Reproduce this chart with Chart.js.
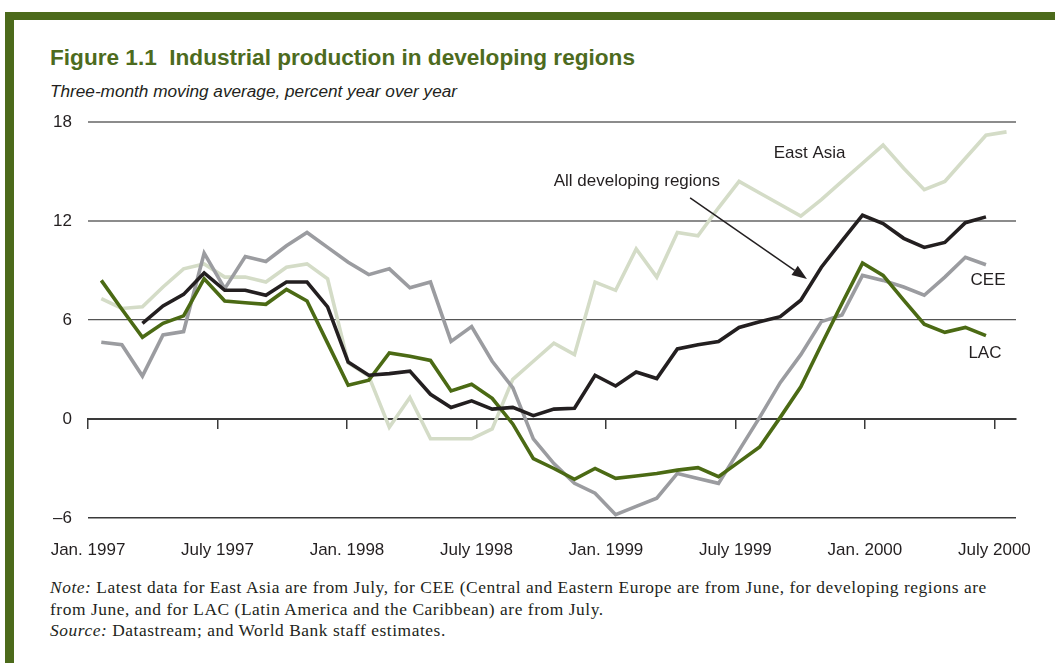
<!DOCTYPE html>
<html>
<head>
<meta charset="utf-8">
<script src="https://cdn.jsdelivr.net/npm/chart.js@4.4.1/dist/chart.umd.min.js"></script>
<style>
  html, body { margin:0; padding:0; background:#fff; }
  body { width:1055px; height:663px; overflow:hidden; position:relative; font-family:"Liberation Sans", Arial, sans-serif; color:#231f20; }
  #topbar { position:absolute; left:5px; top:12px; right:0; height:8px; background:#4c6a1b; }
  #leftbar { position:absolute; left:5px; top:12px; width:9px; bottom:0; background:#4c6a1b; }
  #title { position:absolute; left:50px; top:46px; font-weight:bold; font-size:22.6px; line-height:24px; color:#4d6b1e; white-space:pre; }
  #subtitle { position:absolute; left:50px; top:81px; font-style:italic; font-size:17.2px; line-height:20px; white-space:nowrap; }
  #notes { position:absolute; left:50px; top:577px; font-family:"Liberation Serif", "Times New Roman", serif; font-size:17.4px; letter-spacing:0.55px; line-height:21.5px; white-space:nowrap; }
  canvas { position:absolute; left:0; top:0; }
</style>
</head>
<body>
<div id="topbar"></div>
<div id="leftbar"></div>
<div id="title">Figure 1.1  Industrial production in developing regions</div>
<div id="subtitle">Three-month moving average, percent year over year</div>
<div id="notes"><i>Note:</i> Latest data for East Asia are from July, for CEE (Central and Eastern Europe are from June, for developing regions are<br>from June, and for LAC (Latin America and the Caribbean) are from July.<br><i>Source:</i> Datastream; and World Bank staff estimates.</div>
<canvas id="c" width="1055" height="663"></canvas>
<script>
// ---- data (monthly observations, Nov 1996 – Jul 2000) ----
const months = ['Nov 1996','Dec 1996',
  'Jan 1997','Feb 1997','Mar 1997','Apr 1997','May 1997','Jun 1997','Jul 1997','Aug 1997','Sep 1997','Oct 1997','Nov 1997','Dec 1997',
  'Jan 1998','Feb 1998','Mar 1998','Apr 1998','May 1998','Jun 1998','Jul 1998','Aug 1998','Sep 1998','Oct 1998','Nov 1998','Dec 1998',
  'Jan 1999','Feb 1999','Mar 1999','Apr 1999','May 1999','Jun 1999','Jul 1999','Aug 1999','Sep 1999','Oct 1999','Nov 1999','Dec 1999',
  'Jan 2000','Feb 2000','Mar 2000','Apr 2000','May 2000','Jun 2000','Jul 2000'];

const eastAsia = [7.3, 6.7, 6.8, 8.0, 9.1, 9.4, 8.6, 8.6, 8.3, 9.2,
  9.4, 8.5, 3.4, 2.6, -0.5, 1.3, -1.2, -1.2, -1.2, -0.6,
  2.4, 3.5, 4.6, 3.9, 8.3, 7.8, 10.3, 8.6, 11.3, 11.1,
  12.8, 14.4, 13.7, 13.0, 12.3, 13.3, 14.4, 15.5, 16.6, 15.2,
  13.9, 14.4, 15.8, 17.2, 17.4];

const cee = [4.65, 4.5, 2.6, 5.1, 5.3, 10.05, 7.9, 9.85, 9.55, 10.5,
  11.3, 10.4, 9.5, 8.75, 9.1, 7.95, 8.3, 4.7, 5.6, 3.5,
  1.9, -1.2, -2.7, -3.9, -4.5, -5.8, -5.3, -4.8, -3.3, -3.6,
  -3.9, -1.9, 0.1, 2.2, 3.9, 5.9, 6.3, 8.7, 8.4, 8.0,
  7.5, 8.6, 9.8, 9.35, null];

const lac = [8.4, 6.65, 4.95, 5.8, 6.25, 8.5, 7.15, 7.05, 6.95, 7.85,
  7.15, 4.6, 2.05, 2.35, 4.0, 3.8, 3.55, 1.7, 2.1, 1.25,
  -0.3, -2.4, -3.0, -3.65, -3.0, -3.6, -3.45, -3.3, -3.1, -2.95,
  -3.5, -2.6, -1.7, 0.1, 1.95, 4.5, 7.0, 9.45, 8.7, 7.2,
  5.75, 5.25, 5.55, 5.05, null];

const allDeveloping = [null, null, 5.8, 6.85, 7.55, 8.85, 7.8, 7.8, 7.5, 8.3,
  8.3, 6.8, 3.45, 2.65, 2.75, 2.9, 1.5, 0.7, 1.1, 0.6,
  0.7, 0.2, 0.6, 0.65, 2.65, 2.0, 2.85, 2.45, 4.25, 4.5,
  4.7, 5.55, 5.9, 6.2, 7.2, 9.2, 10.8, 12.35, 11.85, 10.95,
  10.4, 10.7, 11.9, 12.25, null];

// axis tick labels (months since Jan 1997)
const tickMonths = [0, 6, 12, 18, 24, 30, 36, 42];
const tickLabels = ['Jan. 1997','July 1997','Jan. 1998','July 1998','Jan. 1999','July 1999','Jan. 2000','July 2000'];
const yTicks = [-6, 0, 6, 12, 18];

// ---- layout / styling (not data) ----
const seriesLabels = [
  { text: 'East Asia', x: 34.43, y: 16.11 },
  { text: 'All developing regions', x: 26.03, y: 14.39 },
  { text: 'CEE', x: 43.1, y: 8.43 },
  { text: 'LAC', x: 42.95, y: 3.97 }
];
const arrow = { from: [28.62, 13.40], to: [34.30, 8.49] };

const toPoints = arr => arr.map((v, i) => ({ x: i, y: v }));

const gridStyle = {
  '18': ['#8c8c8c', 2], '12': ['#8c8c8c', 2], '6': ['#555555', 1.2],
  '0': ['#3a3a3a', 2], '-6': ['#3a3a3a', 1.5]
};

const notesPlugin = {
  id: 'notes',
  afterDatasetsDraw(chart) {
    const { ctx } = chart;
    const x = chart.scales.x, y = chart.scales.y;
    ctx.save();
    ctx.font = '17px "Liberation Sans", Arial, sans-serif';
    ctx.fillStyle = '#231f20';
    ctx.textAlign = 'center';
    ctx.textBaseline = 'middle';
    seriesLabels.forEach(a => ctx.fillText(a.text, x.getPixelForValue(a.x), y.getPixelForValue(a.y)));
    const x1 = x.getPixelForValue(arrow.from[0]), y1 = y.getPixelForValue(arrow.from[1]);
    const x2 = x.getPixelForValue(arrow.to[0]), y2 = y.getPixelForValue(arrow.to[1]);
    const ang = Math.atan2(y2 - y1, x2 - x1);
    const hl = 15, hw = 5.5;
    const bx = x2 - hl * Math.cos(ang), by = y2 - hl * Math.sin(ang);
    ctx.strokeStyle = '#231f20';
    ctx.lineWidth = 1.5;
    ctx.beginPath(); ctx.moveTo(x1, y1); ctx.lineTo(bx, by); ctx.stroke();
    ctx.beginPath();
    ctx.moveTo(x2, y2);
    ctx.lineTo(bx + hw * Math.sin(ang), by - hw * Math.cos(ang));
    ctx.lineTo(bx - hw * Math.sin(ang), by + hw * Math.cos(ang));
    ctx.closePath(); ctx.fill();
    ctx.restore();
  }
};

const lineDs = (label, data, color) => ({
  label, data: toPoints(data), borderColor: color, backgroundColor: color,
  borderWidth: 3.6, pointRadius: 0, tension: 0, fill: false,
  borderJoinStyle: 'miter', borderCapStyle: 'butt', spanGaps: false
});

new Chart(document.getElementById('c'), {
  type: 'line',
  data: {
    labels: months,
    datasets: [
      lineDs('All developing regions', allDeveloping, '#231f20'),
      lineDs('LAC', lac, '#4b6a14'),
      lineDs('CEE', cee, '#9b9ca0'),
      lineDs('East Asia', eastAsia, '#d4dcc7')
    ]
  },
  options: {
    responsive: false,
    animation: false,
    layout: { padding: { left: 0, right: 39, top: 122, bottom: 95 } },
    plugins: { legend: { display: false }, tooltip: { enabled: false }, title: { display: false } },
    scales: {
      x: {
        type: 'linear', display: false, min: -0.646, max: 44.46
      },
      xt: {
        type: 'linear', position: { y: 0 }, min: 0, max: 43,
        afterBuildTicks: s => { s.ticks = tickMonths.map(v => ({ value: v })); },
        ticks: { display: false },
        grid: { drawOnChartArea: false, drawTicks: true, tickLength: 9, color: '#3a3a3a', lineWidth: 1.5 },
        border: { display: true, color: '#3a3a3a', width: 2 }
      },
      xm: {
        type: 'linear', position: 'bottom', min: 0, max: 43,
        afterBuildTicks: s => { s.ticks = tickMonths.map(v => ({ value: v })); },
        afterFit: s => { s.height = 50; },
        ticks: {
          autoSkip: false, maxRotation: 0, padding: 22, color: '#231f20',
          font: { family: '"Liberation Sans", Arial, sans-serif', size: 17 },
          callback: (v, i) => tickLabels[i]
        },
        grid: { display: false, drawTicks: false },
        border: { display: false }
      },
      y: {
        type: 'linear', position: 'left', min: -6, max: 18,
        afterBuildTicks: s => { s.ticks = yTicks.map(v => ({ value: v })); },
        afterFit: s => { s.width = 88; },
        ticks: {
          padding: 16, color: '#231f20',
          font: { family: '"Liberation Sans", Arial, sans-serif', size: 17 },
          callback: v => (v < 0 ? '\u2013' + Math.abs(v) : String(v))
        },
        grid: {
          drawTicks: false,
          color: c => (gridStyle[String(c.tick && c.tick.value)] || ['#888', 1])[0],
          lineWidth: c => (gridStyle[String(c.tick && c.tick.value)] || ['#888', 1])[1]
        },
        border: { display: false }
      }
    }
  },
  plugins: [notesPlugin]
});
</script>
</body>
</html>
